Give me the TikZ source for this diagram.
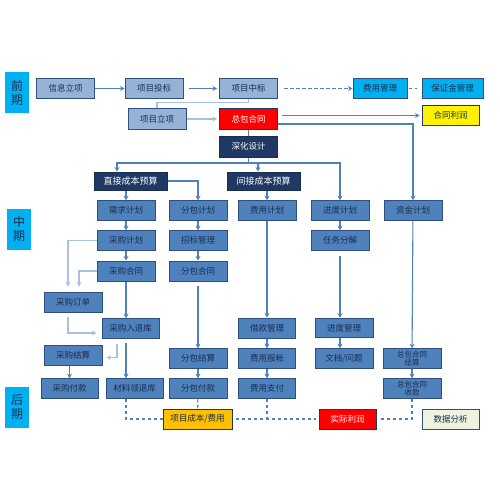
\documentclass[tikz,border=0pt]{standalone}
\usepackage{fontspec}
\setmainfont{Noto Sans CJK SC}
\usetikzlibrary{arrows.meta}
\definecolor{midb}{HTML}{4F81BD}
\definecolor{lightb}{HTML}{95B3D7}
\definecolor{bdr}{HTML}{2F4F7F}
\definecolor{navy}{HTML}{1F3864}
\definecolor{txt}{HTML}{1A2E50}
\definecolor{cyanb}{HTML}{00B0F0}
\definecolor{orng}{HTML}{FFC000}
\definecolor{beige}{HTML}{EEF2DE}
\definecolor{lnc}{HTML}{4F81BD}
\definecolor{lnl}{HTML}{A9C1E0}
\begin{document}
\begin{tikzpicture}[x=1pt,y=-1pt,
  box/.style={draw=bdr, line width=1pt, fill=midb, text=txt, minimum width=58pt,
    minimum height=19.5pt, inner sep=0pt, font=\fontsize{8.5}{10}\selectfont},
  lbox/.style={box, fill=lightb},
  cbox/.style={box, fill=cyanb},
  dbox/.style={box, fill=navy, draw=navy!80!black, text=white},
  rbox/.style={box, fill=red, draw=navy, text=white},
  ybox/.style={box, fill=yellow, draw=navy},
  obox/.style={box, fill=orng, draw=navy},
  gbox/.style={box, fill=beige, draw=bdr},
  tbox/.style={box, align=center, font=\fontsize{7.5}{8.5}\selectfont},
  phase/.style={fill=cyanb, text=txt, minimum width=24pt, minimum height=41pt,
    inner sep=0pt, align=center, font=\fontsize{12}{14}\selectfont},
  arr/.style={draw=lnc, line width=1.1pt, -{Stealth[length=4.5pt,width=5pt,inset=1.5pt]}},
  ln/.style={draw=lnc, line width=1.1pt},
  larr/.style={draw=lnl, line width=1.1pt, -{Stealth[length=4.5pt,width=5pt,inset=1.5pt]}},
  lln/.style={draw=lnl, line width=1.1pt},
  dsh/.style={draw=lnc, line width=1.1pt, dash pattern=on 3.5pt off 2.5pt},
  darr/.style={dsh, -{Stealth[length=4.5pt,width=5pt,inset=1.5pt]}}
]
\useasboundingbox (0,0) rectangle (500,500);
\fill[white] (0,0) rectangle (500,500);
% phases
\node[phase] (p1) at (17,92.5) {前\\期};
\node[phase] (p2) at (19,229) {中\\期};
\node[phase] (p3) at (17,407.5) {后\\期};
% row 1
\node[lbox] (xxlx) at (65.5,88.5) {信息立项};
\node[lbox] (xmtb) at (154,88.5) {项目投标};
\node[lbox] (xmzb) at (248.5,88.5) {项目中标};
\node[cbox, minimum width=54pt] (fygl) at (380,88.5) {费用管理};
\node[cbox, minimum width=61pt] (bzj) at (452.5,88.5) {保证金管理};
% row 2
\node[lbox, minimum height=20pt] (xmlx) at (157,119) {项目立项};
\node[rbox, minimum height=20pt] (zbht) at (248.5,119) {总包合同};
\node[ybox, minimum width=57pt] (htlr) at (450.5,115.5) {合同利润};
\node[dbox, minimum height=21pt] (shsj) at (248.5,146.5) {深化设计};
\node[dbox, minimum width=73pt, minimum height=18pt, font=\fontsize{9}{10}\selectfont] (zjcb) at (130.5,181) {直接成本预算};
\node[dbox, minimum width=73pt, minimum height=18pt, font=\fontsize{9}{10}\selectfont] (jjcb) at (263.5,181) {间接成本预算};
% row 3
\node[box] (xqjh) at (126,210.5) {需求计划};
\node[box] (fbjh) at (198,210.5) {分包计划};
\node[box] (fyjh) at (267,210.5) {费用计划};
\node[box] (jdjh) at (340,210.5) {进度计划};
\node[box] (zjjh) at (413,210.5) {资金计划};
% row 4
\node[box] (cgjh) at (126,240.5) {采购计划};
\node[box] (zbgl) at (198,240.5) {招标管理};
\node[box] (rwfj) at (340,240.5) {任务分解};
% row 5
\node[box, minimum height=20pt] (cght) at (126,271) {采购合同};
\node[box, minimum height=20pt] (fbht) at (198,271) {分包合同};
% lower
\node[box, minimum height=20pt] (cgdd) at (73,302) {采购订单};
\node[box, minimum width=57pt] (crtk) at (130.5,328.5) {采购入退库};
\node[box] (cgjs) at (73,355.5) {采购结算};
\node[box, minimum width=57pt] (cgfk) at (69.5,388.5) {采购付款};
\node[box, minimum width=57pt] (clltk) at (134.5,388.5) {材料领退库};
\node[box] (fbjs) at (198,358.5) {分包结算};
\node[box] (fbfk) at (198,388.5) {分包付款};
\node[obox, minimum width=69pt, minimum height=20pt] (xmcb) at (197.5,419) {项目成本/费用};
\node[box, minimum width=57pt, minimum height=20pt] (jkgl) at (267,328) {借款管理};
\node[box, minimum width=57pt] (fybz) at (267,358.5) {费用报帐};
\node[box, minimum width=57pt] (fyzf) at (267,388.5) {费用支付};
\node[box] (jdgl) at (344,328) {进度管理};
\node[box] (wdwt) at (344,358.5) {文档/问题};
\node[tbox] (zbjs) at (412,358.5) {总包合同\\结算};
\node[tbox] (zbsk) at (412,388.5) {总包合同\\收款};
\node[rbox, minimum width=57pt, minimum height=20pt] (sjlr) at (347.5,419) {实际利润};
\node[gbox, minimum width=57pt, minimum height=20pt] (sjfx) at (450.5,419) {数据分析};
% coordinates
\coordinate (hub) at ([yshift=-5.5pt]shsj.south);
\coordinate (zjin) at ([xshift=-13.5pt]zjcb.north);
\coordinate (jjin) at ([xshift=-5.5pt]jjcb.north);
\coordinate (ddinA) at ([xshift=-5pt]cgdd.north);
\coordinate (ddinB) at ([xshift=6pt]cgdd.north);
\coordinate (ddout) at ([xshift=-5pt]cgdd.south);
\coordinate (rkout) at ([xshift=-13.5pt]crtk.south);
% top connectors
\draw[arr] (xxlx) -- (xmtb);
\draw[arr, shorten <=5pt, shorten >=2pt] (xmtb) -- (xmzb);
\draw[darr, shorten <=6pt] (xmzb) -- (fygl);
\draw[dsh, shorten <=1pt, shorten >=5pt] (fygl) -- (bzj);
\draw[lln] (xmzb.south) -- ++(0,4) -| (xmlx.north);
\draw[larr, shorten >=2pt] (xmlx) -- (zbht);
\draw[arr, shorten <=4pt, shorten >=2pt] (zbht.east |- htlr.west) -- (htlr.west);
\draw[arr] ([yshift=-5pt]zbht.east) -| (zjjh.north);
\draw[ln] (zbht) -- (shsj);
\draw[ln] (shsj.south) -- (hub);
\draw[arr] (hub) -| (zjin);
\draw[arr] (hub) -| (jdjh.north);
\draw[arr] (jjin |- hub) -- (jjin);
% direct cost
\draw[arr] (xqjh.north |- zjcb.south) -- (xqjh.north);
\draw[arr] (zjcb.east) -| (fbjh.north);
\draw[arr] (xqjh) -- (cgjh);
\draw[arr] (cgjh) -- (cght);
\draw[arr] (fbjh) -- (zbgl);
\draw[arr] (zbgl) -- (fbht);
\draw[arr, shorten <=4pt] (fbht) -- (fbjs);
\draw[arr] (fbjs) -- (fbfk);
% indirect
\draw[arr] (fyjh.north |- jjcb.south) -- (fyjh.north);
\draw[arr] (fyjh) -- (jkgl);
\draw[arr] (jkgl) -- (fybz);
\draw[arr] (fybz) -- (fyzf);
\draw[arr] (jdjh) -- (rwfj);
\draw[arr, shorten <=5pt] (rwfj.south) -- (rwfj.south |- jdgl.north);
\draw[arr] (rwfj.south |- jdgl.south) -- (rwfj.south |- wdwt.north);
\draw[arr] (zjjh) -- (zbjs);
\draw[arr] (zbjs) -- (zbsk);
% procurement
\draw[larr, shorten >=5pt] (cgjh.west) -| (ddinA);
\draw[larr, shorten >=5pt] (cght.west) -| (ddinB);
\draw[arr] (cght.south) -- (cght.south |- crtk.north);
\draw[larr, shorten <=4pt, shorten >=5pt] (ddout) |- ([yshift=-4.5pt]crtk.west);
\draw[larr, shorten <=5pt, shorten >=4pt] (rkout) |- ([yshift=-2pt]cgjs.east);
\draw[arr, shorten <=4pt] (cght.south |- crtk.south) -- (cght.south |- clltk.north);
\draw[arr] (cgfk.north |- cgjs.south) -- (cgfk.north);
% dashed bottom
\draw[dsh] (cght.south |- clltk.south) |- (xmcb.west);
\draw[dsh] (fbfk) -- (xmcb);
\draw[dsh, shorten <=3pt, shorten >=3pt] (xmcb) -- (sjlr);
\draw[dsh] (fyzf.south) -- (fyzf.south |- xmcb.east);
\draw[dsh, shorten >=3pt] (zbsk.south) |- (sjlr.east);
\end{tikzpicture}
\end{document}
